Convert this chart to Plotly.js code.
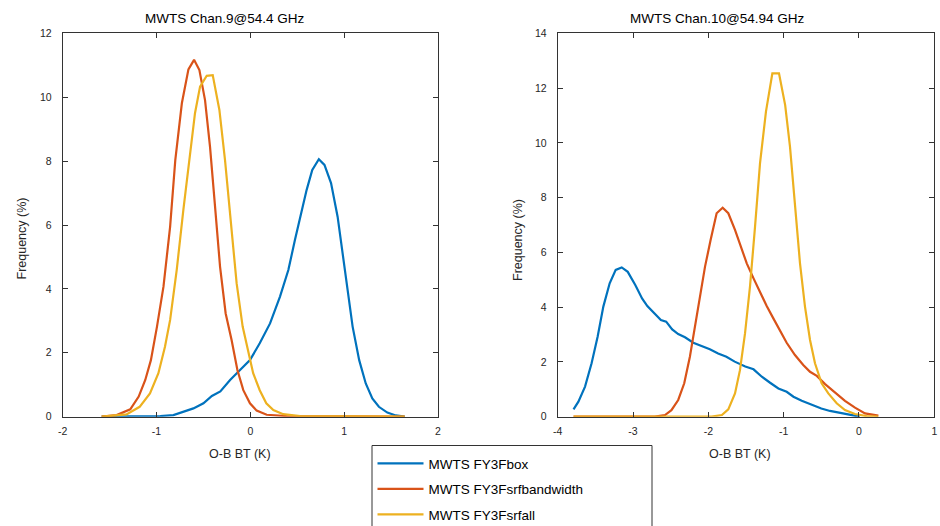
<!DOCTYPE html>
<html>
<head>
<meta charset="utf-8">
<script src="https://cdn.plot.ly/plotly-3.0.1.min.js"></script>
<style>html,body{margin:0;padding:0;background:#fff;}#chart{width:940px;height:526px;}</style>
</head>
<body>
<div id="chart"></div>
<script>
// Channel 9 (54.4 GHz) O-B histograms
const ch9BoxX = [-1.585,-0.96,-0.82,-0.71,-0.607,-0.50,-0.41,-0.32,-0.216,-0.11,-0.004,0.10,0.21,0.316,0.405,0.475,0.53,0.60,0.66,0.73,0.79,0.86,0.93,0.985,1.04,1.09,1.16,1.23,1.30,1.37,1.46,1.55,1.645];
const ch9BoxY = [0,0.02,0.05,0.16,0.26,0.42,0.65,0.79,1.15,1.46,1.77,2.30,2.92,3.76,4.59,5.53,6.26,7.10,7.72,8.06,7.88,7.31,6.26,5.11,3.86,2.82,1.77,1.04,0.57,0.31,0.13,0.04,0];
const ch9BwX = [-1.585,-1.425,-1.28,-1.19,-1.12,-1.06,-0.995,-0.926,-0.855,-0.80,-0.73,-0.66,-0.60,-0.543,-0.483,-0.43,-0.376,-0.323,-0.263,-0.20,-0.138,-0.075,-0.004,0.067,0.174,0.387,1.645];
const ch9BwY = [0,0.05,0.23,0.63,1.15,1.77,2.82,4.07,5.95,8.03,9.81,10.87,11.17,10.85,9.91,8.45,6.57,4.70,3.23,2.40,1.46,0.83,0.42,0.19,0.06,0.02,0];
const ch9AllX = [-1.585,-1.32,-1.18,-1.07,-0.98,-0.91,-0.855,-0.785,-0.714,-0.643,-0.59,-0.536,-0.465,-0.401,-0.33,-0.27,-0.21,-0.146,-0.082,-0.02,0.03,0.10,0.17,0.245,0.35,0.53,1.645];
const ch9AllY = [0,0.07,0.31,0.73,1.36,2.19,3.03,4.59,6.47,8.24,9.50,10.33,10.67,10.69,9.6,8.03,6.16,4.17,2.82,1.98,1.36,0.83,0.42,0.21,0.08,0.02,0];

// Channel 10 (54.94 GHz) O-B histograms
const ch10BoxX = [-3.79,-3.725,-3.637,-3.55,-3.47,-3.394,-3.31,-3.23,-3.15,-3.07,-2.97,-2.88,-2.81,-2.72,-2.63,-2.56,-2.48,-2.40,-2.31,-2.20,-2.09,-1.98,-1.87,-1.76,-1.65,-1.51,-1.40,-1.29,-1.18,-1.07,-0.96,-0.87,-0.76,-0.63,-0.50,-0.385,-0.23,-0.10,0.01];
const ch10BoxY = [0.27,0.55,1.10,1.95,2.92,4.02,4.87,5.36,5.45,5.29,4.81,4.32,4.04,3.77,3.53,3.47,3.19,3.02,2.90,2.70,2.58,2.46,2.31,2.19,2.01,1.83,1.73,1.46,1.24,1.03,0.91,0.73,0.58,0.43,0.30,0.21,0.12,0.05,0];
const ch10BwX = [-3.79,-2.71,-2.575,-2.49,-2.40,-2.32,-2.245,-2.18,-2.11,-2.044,-1.97,-1.89,-1.81,-1.735,-1.646,-1.566,-1.49,-1.40,-1.31,-1.225,-1.137,-1.05,-0.96,-0.85,-0.74,-0.65,-0.56,-0.45,-0.32,-0.186,-0.053,0.08,0.257];
const ch10BwY = [0,0,0.06,0.24,0.61,1.22,2.19,3.29,4.38,5.48,6.45,7.43,7.63,7.43,6.82,6.21,5.60,5.05,4.50,4.04,3.59,3.17,2.70,2.25,1.89,1.64,1.49,1.19,0.88,0.58,0.33,0.12,0.04];
const ch10AllX = [-3.79,-1.956,-1.82,-1.735,-1.646,-1.58,-1.513,-1.447,-1.38,-1.314,-1.235,-1.15,-1.062,-0.98,-0.916,-0.85,-0.783,-0.717,-0.65,-0.584,-0.496,-0.407,-0.296,-0.186,-0.053,0.10,0.257];
const ch10AllY = [0,0,0.06,0.27,0.85,1.70,3.04,4.75,6.94,9.25,11.14,12.54,12.54,11.38,9.86,7.67,5.60,4.02,2.80,1.95,1.22,0.85,0.49,0.24,0.10,0.02,0];

const seriesNames = ['MWTS FY3Fbox', 'MWTS FY3Fsrfbandwidth', 'MWTS FY3Fsrfall'];
const seriesColors = ['#0072BD', '#D95319', '#EDB120'];
const panelTitles = ['MWTS Chan.9@54.4 GHz', 'MWTS Chan.10@54.94 GHz'];
const xTitle = 'O-B BT (K)';
const yTitle = 'Frequency (%)';
const xTicksLeft = [-2, -1, 0, 1, 2];
const yTicksLeft = [0, 2, 4, 6, 8, 10, 12];
const xTicksRight = [-4, -3, -2, -1, 0, 1];
const yTicksRight = [0, 2, 4, 6, 8, 10, 12, 14];

const FONT = 'Liberation Sans, Arial, sans-serif';
const INK = '#262626';
const W = 940, H = 526;

function trace(x, y, i, xa, ya, show) {
  return {x: x, y: y, type: 'scatter', mode: 'lines', name: seriesNames[i],
    xaxis: xa, yaxis: ya, showlegend: show, legendgroup: 'g' + i,
    line: {color: seriesColors[i], width: 2.2}, hoverinfo: 'skip'};
}

const data = [
  trace(ch9BoxX, ch9BoxY, 0, 'x', 'y', true),
  trace(ch9BwX, ch9BwY, 1, 'x', 'y', true),
  trace(ch9AllX, ch9AllY, 2, 'x', 'y', true),
  trace(ch10BoxX, ch10BoxY, 0, 'x2', 'y2', false),
  trace(ch10BwX, ch10BwY, 1, 'x2', 'y2', false),
  trace(ch10AllX, ch10AllY, 2, 'x2', 'y2', false)
];

// tick labels written with a plain hyphen-minus
function ticks(vals) {
  return {tickmode: 'array', tickvals: vals, ticktext: vals.map(v => String(v))};
}

function axis(extra) {
  return Object.assign({
    showline: true, linecolor: '#333', linewidth: 1, mirror: 'ticks',
    ticks: 'inside', ticklen: 5, tickcolor: '#333', tickwidth: 1,
    showgrid: false, zeroline: false, fixedrange: true, automargin: false,
    tickfont: {family: FONT, size: 10.5, color: INK}
  }, extra);
}

// pixel -> paper helpers
const px = v => v / W;
const py = v => 1 - v / H;

function label(text, x, y, size, angle, color) {
  return {text: text, xref: 'paper', yref: 'paper', x: px(x), y: py(y), showarrow: false,
    xanchor: 'center', yanchor: 'middle', textangle: angle || 0,
    font: {family: FONT, size: size, color: color || INK}};
}

const layout = {
  width: W, height: H,
  margin: {l: 0, r: 0, t: 0, b: 0, autoexpand: false},
  paper_bgcolor: '#fff', plot_bgcolor: '#fff',
  font: {family: FONT, color: INK},
  xaxis: axis(Object.assign({domain: [px(62.7), px(438)], range: [-2, 2],
    ticklabelstandoff: 5, anchor: 'y'}, ticks(xTicksLeft))),
  yaxis: axis(Object.assign({domain: [py(416.7), py(33.3)], range: [0, 12],
    ticklabelstandoff: 8, anchor: 'x'}, ticks(yTicksLeft))),
  xaxis2: axis(Object.assign({domain: [px(557.7), px(934.3)], range: [-4, 1],
    ticklabelstandoff: 5, anchor: 'y2'}, ticks(xTicksRight))),
  yaxis2: axis(Object.assign({domain: [py(416.7), py(33.3)], range: [0, 14],
    ticklabelstandoff: 8, anchor: 'x2'}, ticks(yTicksRight))),
  annotations: [
    label(panelTitles[0], 225, 18.5, 13.5, 0, '#000'),
    label(panelTitles[1], 717, 18.5, 13.5, 0, '#000'),
    label(xTitle, 240, 454, 12.5),
    label(xTitle, 740, 454, 12.5),
    label(yTitle, 21.5, 239, 12.5, -90),
    label(yTitle, 518, 240, 12.5, -90)
  ],
  shapes: [
    {type: 'rect', xref: 'paper', yref: 'paper', x0: px(372), x1: px(652), y0: -0.05, y1: py(445.5),
     line: {color: '#333', width: 1}, fillcolor: 'rgba(0,0,0,0)', layer: 'below'}
  ],
  legend: {x: px(372.5), y: py(448), xanchor: 'left', yanchor: 'top',
    bgcolor: 'rgba(0,0,0,0)', borderwidth: 0, itemwidth: 46, tracegroupgap: 5,
    font: {family: FONT, size: 13.5, color: '#000'}},
  showlegend: true
};

Plotly.newPlot('chart', data, layout, {staticPlot: true, displayModeBar: false});
</script>
</body>
</html>
